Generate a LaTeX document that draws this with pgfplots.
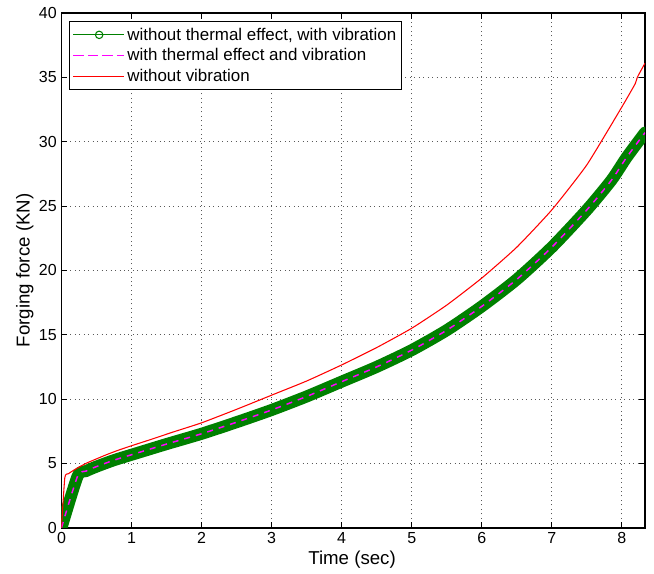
\documentclass[border=0pt]{standalone}
\usepackage{fontspec}
\setmainfont{Liberation Sans}
\usepackage{pgfplots}
\pgfplotsset{compat=1.18}
\definecolor{mgreen}{rgb}{0,0.5,0}
\definecolor{mmag}{rgb}{1,0,1}
\definecolor{mred}{rgb}{1,0,0}
\begin{document}
\begin{tikzpicture}
\begin{axis}[
  name=ax,
  scale only axis,
  width=437.6pt, height=386pt,
  xmin=0, xmax=8.33, ymin=0, ymax=40,
  xtick={0,1,...,8}, ytick={0,5,...,40},
  tick align=inside,
  major tick length=4.5pt,
  tick style={black, line width=0.6pt},
  axis line style={black, line width=1.2pt},
  grid=major,
  major grid style={black!65, line width=0.75pt, dash pattern=on 0.75pt off 2.6pt},
  /pgf/number format/assume math mode=true,
  tick label style={font=\fontsize{12}{14}\selectfont},
  xlabel={Time (sec)},
  ylabel={Forging force (KN)},
  label style={font=\fontsize{14}{16}\selectfont},
  xlabel style={at={(axis description cs:0.498,-0.062)}, anchor=center},
  ylabel style={at={(axis description cs:-0.063,0.5)}, anchor=center},
  legend style={at={(axis description cs:0.013,0.984)}, anchor=north west,
    draw=black, line width=0.75pt, font=\fontsize{12.7}{14}\selectfont,
    row sep=0.8pt, inner xsep=2pt, inner ysep=2.5pt},
  legend cell align=left,
  legend image code/.code={\path (0pt,0pt) -- (38pt,0pt);
    \draw[#1, sharp plot] plot coordinates {(3pt,0pt) (19.5pt,0pt) (36pt,0pt)};},
]
\addplot[mgreen, line width=9pt, line cap=round, line join=round, smooth, tension=0.4, forget plot] coordinates {
(0,0) (0.23,4.0) (0.35,4.4) (0.5,4.75) (0.75,5.25) (1.0,5.67) (1.5,6.5) (2.0,7.3) (2.5,8.2) (3.0,9.15) (3.5,10.2) (4.0,11.35) (4.5,12.5) (5.0,13.8) (5.5,15.35) (6.0,17.2) (6.5,19.3) (7.0,21.8) (7.5,24.7) (7.85,27.0) (8.07,28.8) (8.33,30.7)
};
\addlegendimage{draw=mgreen, line width=0.8pt, mark=o, mark size=2.8pt, mark repeat=2, mark phase=2, mark options={draw=mgreen}}
\addlegendentry{without thermal effect, with vibration}
\addplot[draw=mmag, line width=1.1pt, dash pattern=on 4.5pt off 4.5pt, smooth, tension=0.4, forget plot] coordinates {
(0,0) (0.23,4.0) (0.35,4.4) (0.5,4.75) (0.75,5.25) (1.0,5.67) (1.5,6.5) (2.0,7.3) (2.5,8.2) (3.0,9.15) (3.5,10.2) (4.0,11.35) (4.5,12.5) (5.0,13.8) (5.5,15.35) (6.0,17.2) (6.5,19.3) (7.0,21.8) (7.5,24.7) (7.85,27.0) (8.07,28.8) (8.33,30.7)
};
\addlegendimage{color=mmag, draw=mmag, line width=1.4pt, dash pattern=on 5pt off 6pt}
\addlegendentry{with thermal effect and vibration}
\addplot[draw=mred, line width=0.8pt, smooth, tension=0.3] coordinates {
(0,0) (0.048,3.9) (0.1,4.2) (0.2,4.55) (0.35,5.0) (0.5,5.35) (0.64,5.67) (0.8,6.0) (1.0,6.37) (1.3,6.9) (1.59,7.43) (2.0,8.15) (2.5,9.2) (3.0,10.3) (3.5,11.4) (4.0,12.65) (4.5,14.0) (5.0,15.5) (5.5,17.3) (6.0,19.4) (6.5,21.8) (7.0,24.7) (7.5,28.2) (8.0,32.7) (8.19,34.5) (8.22,35.0) (8.33,36.1)
};
\addlegendentry{without vibration}
\end{axis}
\pgfresetboundingbox
\path[use as bounding box] ([shift={(-46.1pt,-34pt)}]ax.south west) rectangle ([shift={(6.75pt,9.75pt)}]ax.north east);
\end{tikzpicture}
\end{document}
